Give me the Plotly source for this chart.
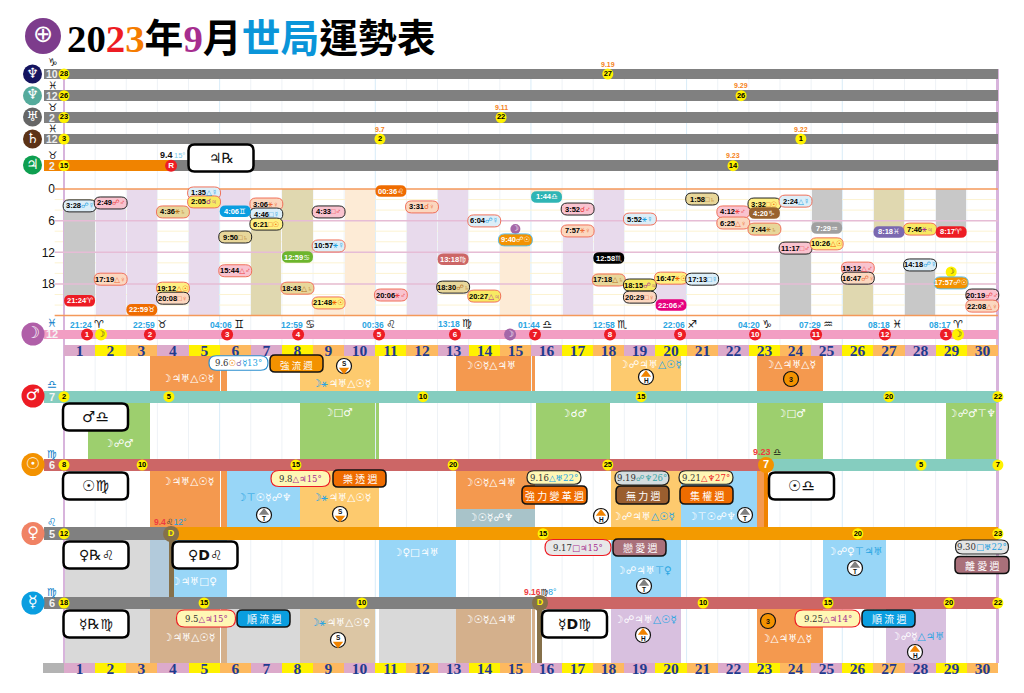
import plotly.graph_objects as go

# ---------- data ----------
days = list(range(1, 31))
hour_ticks = [0, 6, 12, 18]

# (day, row hour, time, aspect, planet, border: h=hard, s=soft)
moon_days = [1,2,2,4,4,4,5,5,6,6,7,7,7,8,9,9,9,11,12,13,14,14,17,17,18,19,19,19,20,21,21,22,22,23,23,24,24,25,26,26,28,28,30,30]
moon_rows = [3.2,2.65,17.1,4.35,18.8,20.7,0.75,2.45,9.1,15.5,2.85,4.75,6.65,18.8,4.35,10.8,21.6,20.1,3.4,18.6,6.05,20.3,3.8,7.95,17.25,5.7,18.2,20.5,16.9,1.9,17.1,4.35,6.45,2.85,7.6,2.3,11.2,10.4,15,16.9,7.6,14.4,20.1,22.2]
moon_times = ["3:28","2:49","17:19","4:36","19:12","20:08","1:35","2:05","9:50","15:44","3:06","4:46","6:21","18:43","4:33","10:57","21:48","20:06","3:31","18:30","6:04","20:27","3:52","7:57","17:18","5:52","18:15","20:29","16:47","1:58","17:13","4:12","6:25","3:32","7:44","2:24","11:17","10:26","15:12","16:47","7:46","14:18","20:19","22:08"]
moon_aspects = ["☍","☍","△","⚹","△","□","△","☌","□","△","⚹","□","□","△","□","⚹","⚹","⚹","☌","☍","☍","△","☌","⚹","△","⚹","☍","□","⚹","□","□","⚹","△","□","⚹","△","□","△","△","☍","⚹","☍","☍","△"]
moon_planets = ["☿","♂","♀","♄","☉","♀","☿","♃","♄","♂","♀","☿","☉","♄","♂","☿","☉","♂","♀","♄","☿","♃","♂","♀","♄","☿","♃","♀","☉","♄","☿","♂","♀","☉","♄","☿","♂","☉","♂","♀","♃","☿","♂","♀"]
moon_borders = ["h","h","s","s","s","h","s","s","h","s","s","h","h","s","h","s","s","s","s","h","s","s","h","s","s","s","h","h","s","h","h","s","s","h","s","s","h","s","s","h","s","h","h","s"]

ingress_days = [1,3,6,8,11,13,16,18,20,23,25,27,29]
ingress_rows = [21.2,22.9,4.2,12.9,0.4,13.3,1.5,13.1,22,4.55,7.4,8.15,8.15]
ingress_times = ["21:24","22:59","04:06","12:59","00:36","13:18","01:44","12:58","22:06","04:20","07:29","08:18","08:17"]
ingress_signs = ["♈","♉","♊","♋","♌","♍","♎","♏","♐","♑","♒","♓","♈"]
ingress_colors = ["#ed1c24","#ef6c00","#0a9ee0","#6cb52d","#ef6c00","#cc6666","#2fb5b5","#000000","#e6007e","#99622e","#a0a0a0","#7b68b0","#ed1c24"]
ingress_marks = [0.74,2.76,5.24,7.52,10.12,12.56,15.13,17.54,19.79,22.2,24.16,26.37,28.33]
ingress_numbers = [1,2,3,4,5,6,7,8,9,10,11,12,1]

void_days = [1,2,3,5,6,7,8,9,10,11,12,13,15,16,17,18,20,24,25,26,27,28,29]
void_start = [3.47,2.82,0,1.58,0,6.35,0,21.8,0,0,3.5,0,9.67,0,7.95,0,16.78,11.28,0,16.78,0,14.3,0]
void_end = [21.4,24,22.98,24,4.1,24,12.98,24,24,0.6,24,13.3,24,1.73,24,12.97,22.1,24,7.48,24,8.3,24,8.28]
void_colors = ["#c8c8c8","#e8daec","#e8daec","#e8daec","#e8daec","#e0d8b0","#e0d8b0","#fdebd6","#fdebd6","#fdebd6","#e8daec","#e8daec","#fdebd6","#fdebd6","#e8daec","#e8daec","#e8daec","#c8c8c8","#c8c8c8","#e0d8b0","#e0d8b0","#c8c8c8","#c8c8c8"]

# slow planets: name, sign, house, start degree, events
slow_signs = ["♑","♓","♉","♓","♉"]
slow_houses = ["10","12","2","12","2"]
slow_start = ["28","26","23","3","15"]
slow_colors = ["#14145f","#55ab9c","#666666","#5c3317","#0e9f50"]
slow_glyphs = ["♆","♆","♅","♄","♃"]
slow_event_pos = [17.47,21.75,14.04,10.15,23.67,21.49]
slow_event_row = [0,1,2,3,3,4]
slow_event_deg = ["27","26","22","2","1","14"]
slow_event_date = ["9.19","9.29","9.11","9.7","9.22","9.23"]

# bar segments per planet: [start day, end day, colour]
jupiter_segments = [(-0.64,3.44,"#f08300"),(3.44,30,"#808080")]
mars_segments = [(-0.64,30,"#85cdbf")]
sun_segments = [(-0.64,22.55,"#cc6666"),(22.55,30,"#85cdbf")]
venus_segments = [(-0.64,3.44,"#808080"),(3.44,30,"#f39a00")]
mercury_segments = [(-0.64,15.29,"#808080"),(15.29,30,"#cc6666")]
moon_segments = [(-0.64,30,"#f29ec3")]

mars_marks = [(0,"2"),(3.37,"5"),(11.53,"10"),(18.54,"15"),(26.5,"20"),(30,"22")]
sun_marks = [(0,"8"),(2.51,"10"),(7.45,"15"),(12.5,"20"),(17.47,"25"),(27.53,"5"),(30,"7")]
venus_marks = [(0,"12"),(15.39,"15"),(25.5,"20"),(30,"23")]
mercury_marks = [(0,"18"),(4.5,"15"),(9.57,"10"),(20.53,"10"),(24.54,"15"),(28.43,"20"),(30,"22")]

# transit windows: start day, end day, colour
band_a = [(2.76,5.01,"#f4994f"),(5.05,5.24,"#f4994f"),(7.58,10.12,"#fdca6e"),(12.59,15.0,"#f4994f"),(15.03,15.13,"#f4994f"),(17.57,19.82,"#fdca6e"),(22.26,24.38,"#f4994f")]
band_b = [(0.77,2.76,"#9dcf6e"),(7.58,10.0,"#9dcf6e"),(10.03,10.12,"#9dcf6e"),(15.16,17.54,"#9dcf6e"),(22.26,24.38,"#9dcf6e"),(28.33,30,"#9dcf6e")]
band_c = [(2.76,5.01,"#f4994f"),(5.05,5.24,"#f4994f"),(5.24,7.58,"#98d6f7"),(7.58,10.12,"#fdca6e"),(17.57,19.82,"#fdca6e"),(19.82,22.26,"#98d6f7"),(22.26,22.55,"#f4994f")]
band_c_split = [(12.59,15.13,"#f4994f","#a8c3c9")]
band_d = [(0,2.76,"#d9d9d9"),(2.76,3.44,"#b2cadb"),(3.44,5.24,"#98d6f7"),(10.12,12.59,"#98d6f7"),(17.57,19.82,"#98d6f7"),(24.38,26.4,"#98d6f7")]
band_e = [(0,2.76,"#d9d9d9"),(2.76,5.01,"#d4b08c"),(5.05,5.24,"#d4b08c"),(5.24,7.58,"#d9d9d9"),(7.58,10.0,"#dcc6a4"),(10.12,12.59,"#d9d9d9"),(12.59,15.0,"#d4b08c"),(15.03,15.13,"#d4b08c"),(17.57,19.82,"#d8c0df"),(22.26,24.38,"#f4994f"),(26.4,28.33,"#d8c0df")]

# ---------- layout constants ----------
X0, DX = 64.0, 31.13
W, H = 1024, 693
Y0H, PXH = 189.0, 5.275
def dx(px): return (px - X0) / DX

fig = go.Figure()
shapes, notes = [], []
FONT = "Liberation Sans, DejaVu Sans, Noto Sans CJK TC"
SYM = "DejaVu Sans, Noto Sans CJK TC"
CJK = "Noto Sans CJK TC, DejaVu Sans"

def txt(px, py, text, size=9, color="#000", family=FONT, anchor="center"):
    notes.append(dict(x=px/W, y=1-py/H, xref="paper", yref="paper", text=text, showarrow=False,
                      xanchor=anchor, yanchor="middle", align="center", borderpad=0, borderwidth=0,
                      font=dict(size=size, color=color, family=family)))

def pill(t, y, w, h, r, fill, line, lw=1, yref="y"):
    a, b = w/2, h/2
    r = min(r, b)
    p = (f"M {-a+r},{-b} L {a-r},{-b} Q {a},{-b} {a},{-b+r} L {a},{b-r} Q {a},{b} {a-r},{b} "
         f"L {-a+r},{b} Q {-a},{b} {-a},{b-r} L {-a},{-b+r} Q {-a},{-b} {-a+r},{-b} Z")
    shapes.append(dict(type="path", xref="x", yref=yref, xsizemode="pixel", ysizemode="pixel",
                       xanchor=t, yanchor=y, path=p, fillcolor=fill,
                       line=dict(color=line, width=lw) if lw else dict(width=0), layer="above"))

def hbars(y, h, segs):
    for s, e, c in segs:
        fig.add_trace(go.Bar(orientation="h", y=[y], x=[e-s], base=[s], width=[h], marker=dict(color=c, line_width=0),
                             showlegend=False, hoverinfo="skip", xaxis="x", yaxis="y"))

def vbands(y0, y1, segs):
    for s, e, c in segs:
        fig.add_trace(go.Bar(x=[(s+e)/2], y=[y1-y0], base=[y0], width=[e-s], marker=dict(color=c, line_width=0),
                             showlegend=False, hoverinfo="skip", xaxis="x", yaxis="y"))

def marks(xs, ys, labels, size=11, color="#fff200", tcolor="#000", tsize=7.5, line=None, yaxis="y"):
    fig.add_trace(go.Scatter(x=xs, y=ys, mode="markers+text", text=labels, textposition="middle center",
                             textfont=dict(size=tsize, color=tcolor, family="Liberation Sans, DejaVu Sans"),
                             texttemplate="<b>%{text}</b>",
                             marker=dict(size=size, color=color, line=dict(width=0 if line is None else 1.5, color=line or color)),
                             showlegend=False, hoverinfo="skip", xaxis="x", yaxis=yaxis))

def hi(a, b="", c=""):
    # white text with a highlighted part in blue
    return f'{a}<span style="color:#2aa5e2">{b}</span>{c}'

# grid
for d in range(0, 31):
    c = "#d8ecf8" if d % 5 == 0 else "#eef2f6"
    shapes.append(dict(type="line", xref="x", yref="y", x0=d, x1=d, y0=69, y1=663, line=dict(color=c, width=1), layer="below"))
for h_ in range(2, 24, 2):
    shapes.append(dict(type="line", xref="x", yref="y2", x0=-0.3, x1=30, y0=h_, y1=h_, line=dict(color="#fcf3d2", width=1), layer="below"))
for h_ in [6, 12, 18]:
    shapes.append(dict(type="line", xref="x", yref="y2", x0=-0.3, x1=30, y0=h_, y1=h_, line=dict(color="#e6bcd6", width=1.5), layer="above"))
for h_ in [0, 24]:
    shapes.append(dict(type="line", xref="x", yref="y2", x0=-0.3, x1=30, y0=h_, y1=h_, line=dict(color="#f4995a", width=1.5), layer="above"))

# panels
vbands(356, 391, band_a)
vbands(403, 459, band_b)
vbands(471, 527, band_c)
for s, e, c1, c2 in band_c_split:
    vbands(471, 509, [(s, e, c1)])
    vbands(509, 527, [(s, e, c2)])
vbands(540, 597, band_d)
vbands(609, 663, band_e)

# edges of the month
vbands(69, 663, [(-0.03, 0.03, "#d8b4dc"), (29.97, 30.03, "#d8b4dc")])

# moon void bands
for d, s, e, c in zip(void_days, void_start, void_end, void_colors):
    fig.add_trace(go.Bar(x=[d-0.5], y=[e-s], base=[s], width=[0.97], marker=dict(color=c, line_width=0),
                         showlegend=False, hoverinfo="skip", xaxis="x", yaxis="y2"))

# date strips
strip = ["#dcaacb", "#fff200", "#fdb95f"]
for ys, sh in ((345, 10.7), (663, 9.5)):
    for d in days:
        c = strip[(d-1) % 3]
        fig.add_trace(go.Bar(x=[d-0.5], y=[sh], base=[ys], width=[1], marker=dict(color=c, line_width=0),
                             showlegend=False, hoverinfo="skip", xaxis="x", yaxis="y",
                             text=[f"<b>{d}</b>"], textposition="inside", insidetextanchor="middle",
                             textangle=0, cliponaxis=False, constraintext="none",
                             textfont=dict(size=15.5, color="#1f3b8f", family="Liberation Serif")))
vbands(663, 672.5, [(-0.66, 0, "#b3b3b3")])

# planet rows
slow_y = [74, 95.7, 117.5, 139, 165.7]
for y in slow_y[:4]:
    hbars(y, 10.5, [(-0.64, 30, "#808080")])
hbars(slow_y[4], 10.5, jupiter_segments)
hbars(334.5, 9.5, moon_segments)
hbars(396.7, 12, mars_segments)
hbars(465, 12, sun_segments)
hbars(533.7, 12.5, venus_segments)
hbars(603, 12, mercury_segments)

# retro/direct stems
vbands(527, 597, [(3.36, 3.52, "#85704a")])
vbands(609, 663, [(15.21, 15.37, "#85704a")])
vbands(470, 527, [(22.5, 22.62, "#f08300")])

# title
t = ('<b><span style="color:#000">20</span><span style="color:#ed1c24">2</span><span style="color:#f57c00">3</span>'
     '<span style="color:#000">年</span><span style="color:#a62e8f">9</span><span style="color:#000">月</span>'
     '<span style="color:#0a95d9">世局</span><span style="color:#000">運勢表</span></b>')
txt(66.5, 38.5, t, size=38.8, family="Liberation Serif, Noto Sans CJK TC", anchor="left")

# planet discs
big = [(dx(43), 36, "#7d3c8c", 36, "⊕", 24)]
for y, c, g in zip([74, 95.7, 117, 139, 165], slow_colors, slow_glyphs):
    big.append((dx(32.5), y, c, 19, g, 14))
big += [(dx(33), 334, "#b05fa8", 23, "☽", 16), (dx(33), 396, "#ed1c24", 23, "♂", 16), (dx(33), 464.5, "#f39200", 23, "☉", 16),
        (dx(33), 533.5, "#f08264", 23, "♀", 16), (dx(33), 603, "#0a9ee0", 23, "☿", 16)]
for x_, y_, c, s, g, ts in big:
    fig.add_trace(go.Scatter(x=[x_], y=[y_], mode="markers+text", text=[g], textposition="middle center",
                             textfont=dict(size=ts, color="#fff", family=SYM),
                             marker=dict(size=s, color=c, line_width=0), showlegend=False, hoverinfo="skip"))

# house numbers and signs
for y, s, h_, yy in zip(slow_y, slow_signs, slow_houses, [62.5, 85, 107, 128, 155]):
    txt(52, yy, s, 10.5, "#111", SYM)
    txt(51.5, y, f"<b>{h_}</b>", 10.5, "#eee")
for yy, y, s, h_, c in [(323, 334.5, "♓", "12", "#0a7cc8"), (384, 396.7, "♎", "7", "#0a7cc8"), (454, 465, "♍", "6", "#0a7cc8"),
                        (522, 533.7, "♌", "5", "#0a7cc8"), (592, 603, "♍", "6", "#0a7cc8")]:
    txt(52, yy, s, 11, c, SYM)
    txt(52, y, f"<b>{h_}</b>", 11, "#f4f4f4")

# slow planet degree marks
marks([0]*5, slow_y, slow_start)
marks(slow_event_pos, [slow_y[r] for r in slow_event_row], slow_event_deg)
for p, r, dt in zip(slow_event_pos, slow_event_row, slow_event_date):
    txt(X0+p*DX, slow_y[r]-10, f"<b>{dt}</b>", 7, "#f58220")
marks([3.44], [slow_y[4]], ["R"], size=12, color="#ed1c24", tcolor="#fff", tsize=8)
txt(166, 155.5, "<b>9.4</b>", 9, "#111")
txt(179, 155.5, "15°", 7.5, "#7cc8ea")

# degree marks on fast planets
for row_y, m in [(396.7, mars_marks), (465, sun_marks), (533.7, venus_marks), (603, mercury_marks)]:
    marks([a for a, _ in m], [row_y]*len(m), [b for _, b in m])
marks([22.55], [465], ["7"], size=16, color="#f39200", tcolor="#fff", tsize=11)
marks([3.44, 15.29], [534, 603], ["D", "D"], size=16, color="#85704a", tcolor="#fff200", tsize=9)

# moon ingress row
marks(ingress_marks, [334.5]*13, ingress_numbers, size=12, color="#ed1c24", tcolor="#fff", tsize=8)
marks([1.19, 28.72], [334.5, 334.5], ["☽", "☽"], size=12, color="#fff200", tcolor="#333", tsize=9)
marks([14.33], [334.5], ["☽"], size=12, color="#a566a8", tcolor="#fff", tsize=9)
for p, tm, s in zip(ingress_marks, ingress_times, ingress_signs):
    txt(X0+p*DX, 323.5, f'<b><span style="color:#2aa5e2">{tm}</span></b> <span style="color:#111;font-size:11px">{s}</span>', 8.5)

# moon aspect pills
PC = {"☿": "#1a9fe0", "♂": "#ed3c40", "♀": "#ee6a38", "♃": "#a62e8f", "♄": "#b5701a", "☉": "#f06000"}
PF = {"☿": "#dceef8", "♂": "#f9c3cf", "♀": "#fbd7bf", "♃": "#f7ea63", "♄": "#e8d79a", "☉": "#fff083"}
for d, r, tm, a, p, b in zip(moon_days, moon_rows, moon_times, moon_aspects, moon_planets, moon_borders):
    pill(d-0.5, r, 33, 12, 6, PF[p], "#222" if b == "h" else "#f0705a", 1, "y2")
    txt(X0+(d-0.5)*DX, Y0H+r*PXH, f'<b>{tm}</b><span style="color:{PC[p]}">{a}{p}</span>', 7.5)
for d, r, tm, s, c in zip(ingress_days, ingress_rows, ingress_times, ingress_signs, ingress_colors):
    pill(d-0.5, r, 31, 11.5, 6, c, c, 0, "y2")
    txt(X0+(d-0.5)*DX, Y0H+r*PXH, f"<b>{tm.lstrip('0') if tm[0]=='0' and tm[1]!='0' else tm}</b>{s}", 7.5, "#fff")
for d, r, tm, px_ in [(15, 9.65, "9:40", 515.5), (29, 17.8, "17:57", 951)]:
    pill(d-0.5, r, 34, 12, 6, "#f39200", "#5cc0ea", 1, "y2")
    txt(px_, Y0H+r*PXH, f"<b>{tm}</b>☍☉", 7.5, "#fff")
marks([14.5], [229], ["☽"], size=10, color="#a566a8", tcolor="#fff", tsize=8)
marks([28.5], [272], ["☽"], size=11, color="#fff200", tcolor="#333", tsize=8)

# label boxes
boxes = [(221, 158, "♃℞", 14), (95.5, 417, "♂♎", 15), (95.5, 486, "☉♍", 15), (801.5, 486, "☉♎", 15),
         (96, 555, "♀℞♌", 14), (205, 555, "♀<b>D</b>♌", 14), (96, 624, "☿℞♍", 14), (574.5, 624, "☿<b>D</b>♍", 14)]
for px_, py, s, fs in boxes:
    pill(dx(px_), py, 65, 27, 6, "#fff", "#000", 2.5)
    txt(px_, py, s, fs, "#111", SYM)

# event pills (date + aspect)
evs = [(238.5, 363, 59, 14.5, "#ffffff", "#2a8fd0", '9.6<span style="color:#f08300">☉</span><span style="color:#8a6fb0">☌</span><span style="color:#1a9fe0">☿13°</span>'),
       (300.5, 478.5, 59, 16, "#fff7b5", "#ed1c24", '9.8<span style="color:#a62e8f">△♃15°</span>'),
       (554, 477.5, 54, 13.5, "#fff7b5", "#222", '9.16<span style="color:#1a9fe0">△♅22°</span>'),
       (642, 478, 54, 14, "#d5dde0", "#222", '9.19<span style="color:#3aa5a5">☍♆26°</span>'),
       (706, 477.5, 54, 13.5, "#fff7b5", "#222", '9.21<span style="color:#ed1c24">△♆27°</span>'),
       (578, 547.5, 66, 16, "#e8e8e8", "#ed1c24", '9.17<span style="color:#a62e8f">□♃15°</span>'),
       (982, 547, 53, 14, "#e4e4e4", "#222", '9.30<span style="color:#1a9fe0">□♅22°</span>'),
       (206, 618.5, 59, 17, "#fff7b5", "#ed1c24", '9.5<span style="color:#a62e8f">△♃15°</span>'),
       (827.5, 618.5, 65, 17, "#fff7b5", "#ed1c24", '9.25<span style="color:#a62e8f">△♃14°</span>')]
for px_, py, w, h_, f, l, s in evs:
    pill(dx(px_), py, w, h_, 8, f, l, 1.2)
    txt(px_, py, s, 8.5, "#333", "DejaVu Serif, DejaVu Sans")

# week labels
weeks = [(296.5, 363.5, 53, 17, "#f39200", "強 流 週", 9.5), (359.5, 478.5, 53, 17, "#ef6c00", "樂 透 週", 10),
         (554.5, 495, 65, 18, "#ef6c00", "強 力 變 革 週", 10), (642.5, 495, 53, 18, "#9a5e2f", "無 力 週", 10),
         (706.5, 495, 53, 18, "#ef6c00", "集 權 週", 10), (639.5, 547.5, 53, 17, "#a9707a", "戀 愛 週", 10),
         (982, 565, 54, 17, "#a9707a", "離 愛 週", 10), (263.5, 618.5, 53, 17, "#0a9ee0", "順 流 週", 10),
         (888.5, 618.5, 53, 17, "#0a9ee0", "順 流 週", 10)]
for px_, py, w, h_, f, s, fs in weeks:
    pill(dx(px_), py, w, h_, 5, f, "#111", 1.5)
    txt(px_, py + (1 if fs < 10 else 0), s, fs, "#fff", CJK)

# small transit texts
white = [(188, 378, "☽♃♅△☉☿"), (338, 412, "☽□♂"), (118, 443, "☽☍♂"), (574, 413, "☽☌♂"), (791, 413, "☽□♂"),
         (972, 413, "☽☍♂⊤♆"), (490, 365, "☽☉☿△♃♅"), (790, 364, "☽△♃♅△☿"), (650, 364, hi("☽☍♃♅", "△☉☿")), (188, 481, "☽♃♅△☉☿"),
         (490, 482, "☽☉☿△♃♅"), (490, 517, "☽☉☿☍♆"), (194, 581, "☽♃♅□♀"), (416, 552, "☽♀□♃♅"), (644, 570, hi("☽☍♃♅", "⊤♀")),
         (855, 551, hi("☽☍♀", "⊤♃♅")), (189, 637, "☽♃♅△☉☿"), (490, 619, "☽☉☿△♃♅"), (645, 619, hi("☽☍♃♅", "△☉☿")), (786, 638, "☽△♃♅△☿"),
         (917, 636, hi("☽☍☿", "△♃♅")), (712, 516, "☽⊤☉☍♆"), (643, 516, hi("☽☍♃♅", "△☉☿")), (264, 497, hi("", "☽⊤", "☉☿☍♆")), (341, 497, hi("", "☽⚹", "♃♅△☉☿")),
         (341, 383, hi("", "☽⚹", "♃♅△☉☿")), (340, 622, hi("", "☽⚹", "♃♅△☉♀"))]
for px_, py, s in white:
    txt(px_, py, s, 10.5, "#fff", SYM)

# degree callouts
txt(170, 522, '<span style="color:#ed3c40"><b>9.4</b></span><span style="color:#333">♌</span><span style="color:#1a9fe0">12°</span>', 8.5)
txt(540, 592, '<span style="color:#ed3c40"><b>9.16</b></span><span style="color:#111">♍</span><span style="color:#1a9fe0">8°</span>', 8.5)
txt(767, 452, '<span style="color:#ed3c40"><b>9.23</b></span> <span style="color:#111">♎</span>', 9)

# round icons
icons = [("S", 344, 366), ("S", 340, 514), ("S", 338, 640), ("T", 264, 515), ("T", 745, 515), ("T", 644, 586), ("T", 855, 568),
         ("H", 646, 377), ("H", 601, 516), ("H", 643, 635), ("H", 915, 652), ("3", 791, 379), ("3", 768, 621)]
for k, px_, py in icons:
    fill = "#f39200" if k == "3" else "#fff"
    fig.add_trace(go.Scatter(x=[dx(px_)], y=[py], mode="markers", marker=dict(size=15, color=fill, line=dict(color="#111", width=1.2)),
                             showlegend=False, hoverinfo="skip"))
    if k != "3":
        sym, col, off, off2 = {"S": ("triangle-down", "#f08300", 4, -2.5), "T": ("triangle-up", "#808080", -2.5, 3.5), "H": ("triangle-up", "#f08300", -2.5, 3.5)}[k]
        fig.add_trace(go.Scatter(x=[dx(px_)], y=[py+off], mode="markers", marker=dict(size=9, color=col, symbol=sym, line_width=0),
                                 showlegend=False, hoverinfo="skip"))
        txt(px_, py+off2, f"<b>{k}</b>", 6.5, "#111")
    else:
        txt(px_, py, f"<b>{k}</b>", 7, "#111")

fig.update_layout(
    width=W, height=H, margin=dict(l=0, r=0, t=0, b=0), plot_bgcolor="#fff", paper_bgcolor="#fff",
    barmode="overlay", bargap=0, showlegend=False,
    xaxis=dict(range=[(0-X0)/DX, (W-X0)/DX], visible=False, fixedrange=True),
    yaxis=dict(range=[H, 0], visible=False, fixedrange=True),
    yaxis2=dict(range=[(H-Y0H)/PXH, (0-Y0H)/PXH], overlaying="y", anchor="free", position=55/W, side="left",
                tickmode="array", tickvals=hour_ticks, ticks="", showgrid=False, zeroline=False, showline=False,
                tickfont=dict(size=12, color="#111", family="Liberation Sans"), fixedrange=True,
                tickprefix="<b>", ticksuffix="</b>"),
    shapes=shapes, annotations=notes,
)
fig.write_html("out.html", post_script="document.body.style.margin='0';document.body.style.overflow='hidden';",
               config={"displayModeBar": False})
